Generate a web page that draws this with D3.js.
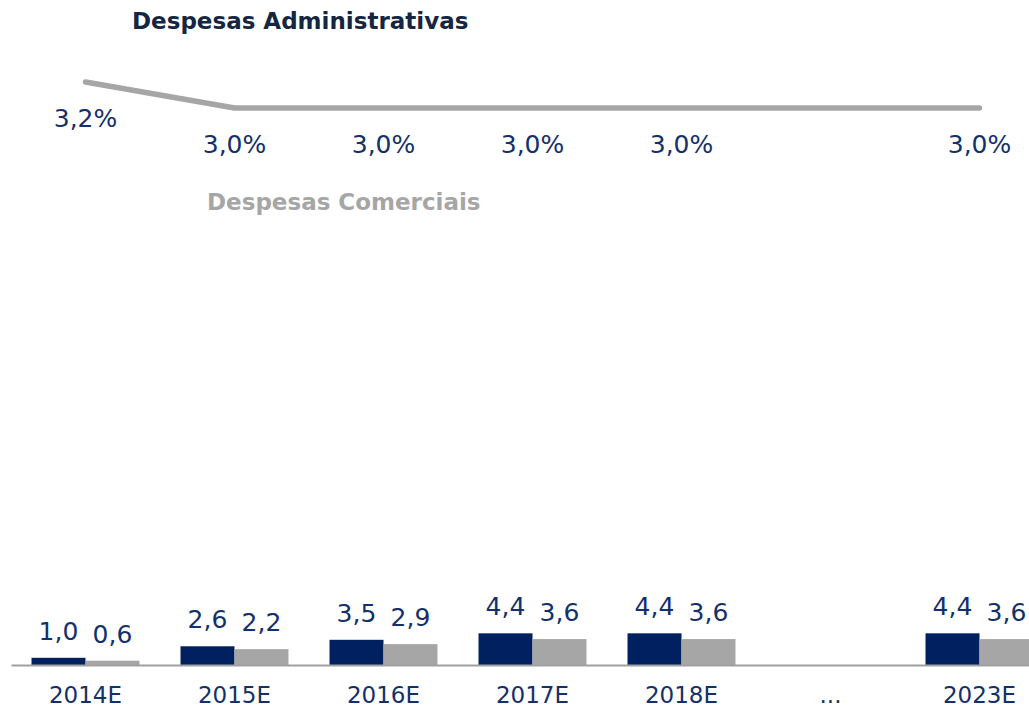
<!DOCTYPE html>
<html>
<head>
<meta charset="utf-8">
<script src="https://cdn.jsdelivr.net/npm/d3@7"></script>
<style>
  body { margin: 0; background: #fff; }
  svg { display: block; font-family: "DejaVu Sans", Verdana, sans-serif; }
</style>
</head>
<body>
<svg id="chart" width="1029" height="710"></svg>
<script>
const categories = ["2014E", "2015E", "2016E", "2017E", "2018E", "...", "2023E"];
const despAdm = [1.0, 2.6, 3.5, 4.4, 4.4, null, 4.4];
const despCom = [0.6, 2.2, 2.9, 3.6, 3.6, null, 3.6];
const margem = [3.2, 3.0, 3.0, 3.0, 3.0, null, 3.0];
const seriesNames = ["Despesas Administrativas", "Despesas Comerciais"];

const navy = "#002060";
const grey = "#a6a6a6";
const txt = "#13306b";

const svg = d3.select("#chart");

// x: one band per category
const x = d3.scaleBand().domain(categories).range([11, 11 + 149 * categories.length]).padding(0);
const x1 = d3.scaleBand().domain(["adm", "com"]).range([0, x.bandwidth()]).paddingInner(0).paddingOuter(0.38);

// barras
const y = d3.scaleLinear().domain([0, 10]).range([665, 593]);
// linha de percentual
const yLine = d3.scaleLinear().domain([3.0, 3.2]).range([108, 82]);

const fmt = v => d3.format(".1f")(v).replace(".", ",");

// titulos
svg.append("text").attr("x", 132).attr("y", 29)
  .attr("font-size", 23).attr("font-weight", "bold").attr("fill", "#142642")
  .text(seriesNames[0]);
svg.append("text").attr("x", 207).attr("y", 210)
  .attr("font-size", 23).attr("font-weight", "bold").attr("fill", grey)
  .text(seriesNames[1]);

// linha
const pts = categories.map((c, i) => ({c, v: margem[i]})).filter(d => d.v != null);
const line = d3.line().x(d => x(d.c) + x.bandwidth() / 2).y(d => yLine(d.v));
svg.append("path").datum(pts)
  .attr("d", line).attr("fill", "none").attr("stroke", grey)
  .attr("stroke-width", 5.5).attr("stroke-linecap", "round").attr("stroke-linejoin", "round");

svg.append("g").selectAll("text").data(pts).join("text")
  .attr("x", d => x(d.c) + x.bandwidth() / 2)
  .attr("y", d => yLine(d.v) + 45)
  .attr("text-anchor", "middle").attr("font-size", 25).attr("fill", txt)
  .text(d => fmt(d.v) + "%");

// barras
const rows = [];
categories.forEach((c, i) => {
  if (despAdm[i] != null) rows.push({c, k: "adm", v: despAdm[i]});
  if (despCom[i] != null) rows.push({c, k: "com", v: despCom[i]});
});

svg.append("g").selectAll("rect").data(rows).join("rect")
  .attr("x", d => x(d.c) + x1(d.k))
  .attr("width", x1.bandwidth())
  .attr("y", d => y(d.v))
  .attr("height", d => y(0) - y(d.v))
  .attr("fill", d => d.k === "adm" ? navy : grey);

svg.append("g").selectAll("text").data(rows).join("text")
  .attr("x", d => x(d.c) + x1(d.k) + x1.bandwidth() / 2)
  .attr("y", d => y(d.v) - 18)
  .attr("text-anchor", "middle").attr("font-size", 25).attr("fill", txt)
  .text(d => fmt(d.v));

// eixo
const axis = svg.append("g").attr("transform", `translate(0,${y(0)})`)
  .call(d3.axisBottom(x).tickSize(0).tickPadding(22));
axis.select(".domain").attr("stroke", "#a0a0a0").attr("stroke-width", 2);
axis.selectAll("text").attr("font-size", 23).attr("fill", txt)
  .attr("font-family", "DejaVu Sans, Verdana, sans-serif");
</script>
</body>
</html>
